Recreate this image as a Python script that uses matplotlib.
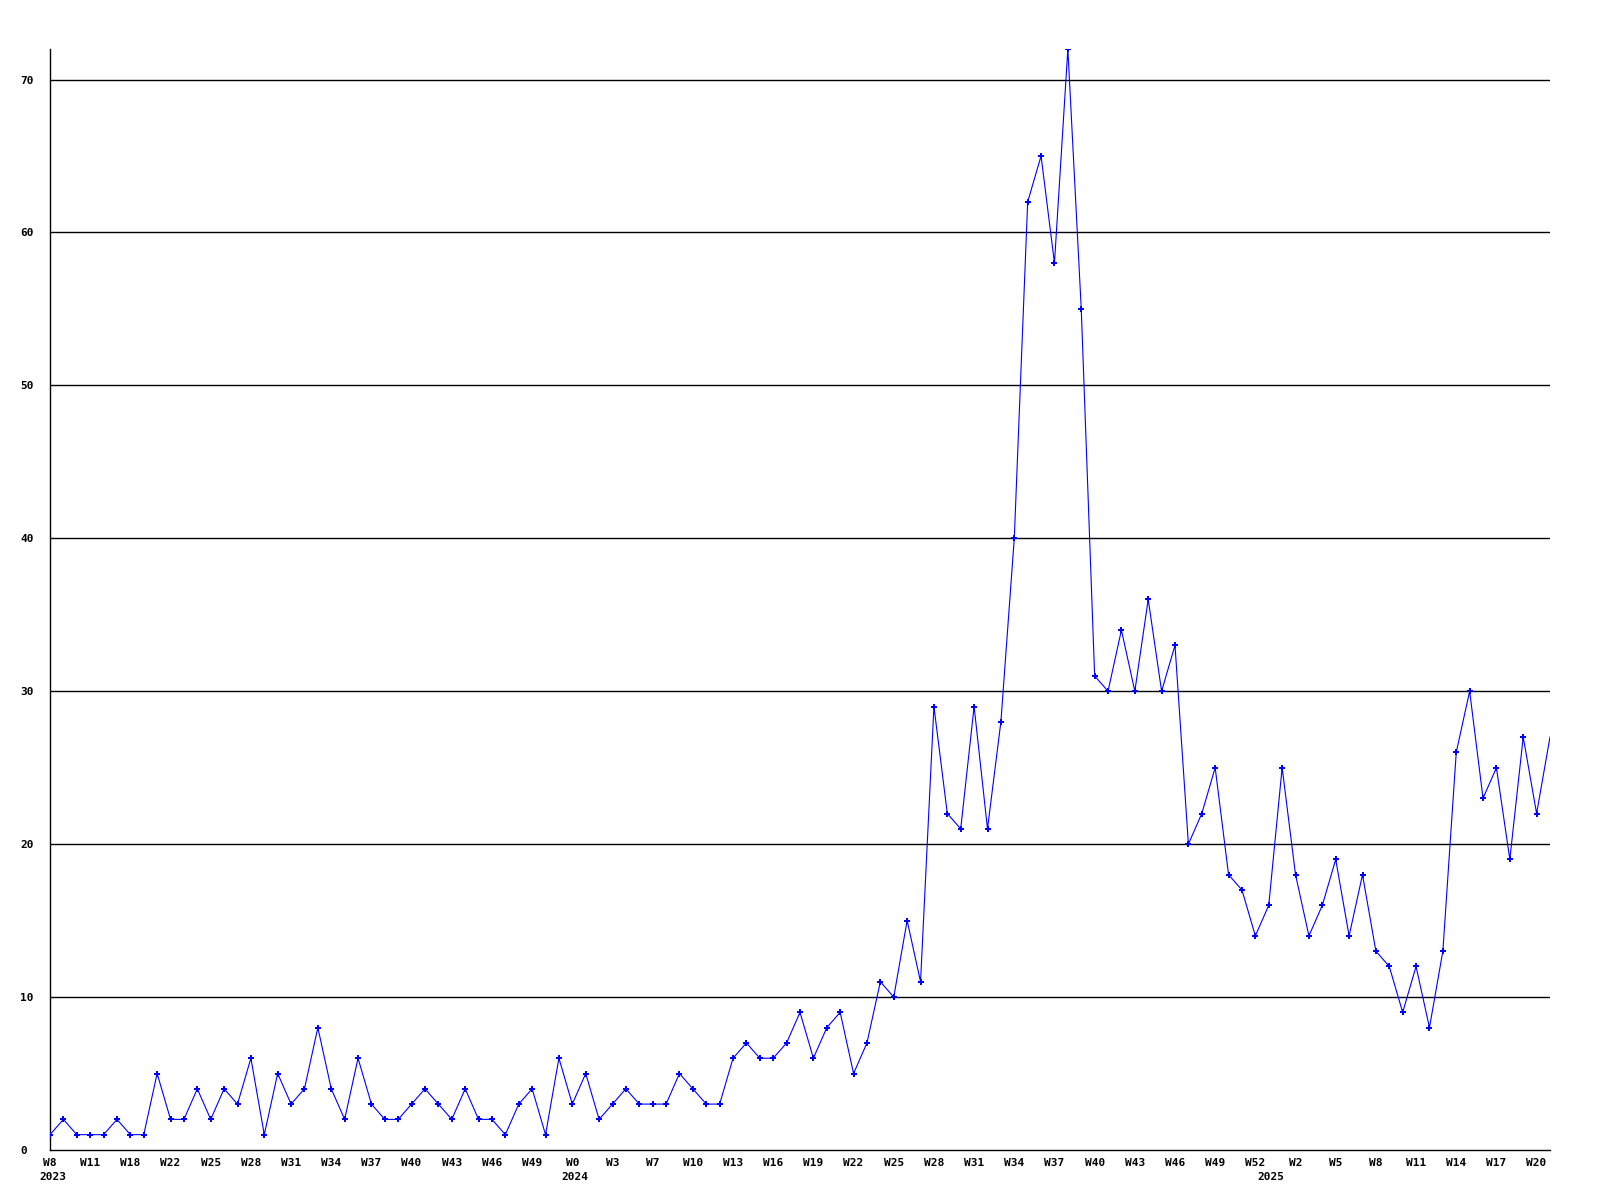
import numpy as np
import matplotlib.pyplot as plt

# weekly counts
counts = [1, 2, 1, 1, 1, 2, 1, 1, 5, 2, 2, 4, 2, 4, 3, 6, 1, 5, 3, 4,
          8, 4, 2, 6, 3, 2, 2, 3, 4, 3, 2, 4, 2, 2, 1, 3, 4, 1, 6, 3,
          5, 2, 3, 4, 3, 3, 3, 5, 4, 3, 3, 6, 7, 6, 6, 7, 9, 6, 8, 9,
          5, 7, 11, 10, 15, 11, 29, 22, 21, 29, 21, 28, 40, 62, 65, 58, 72, 55, 31, 30,
          34, 30, 36, 30, 33, 20, 22, 25, 18, 17, 14, 16, 25, 18, 14, 16, 19, 14, 18, 13,
          12, 9, 12, 8, 13, 26, 30, 23, 25, 19, 27, 22, 27]

week_labels = ['W8', 'W11', 'W18', 'W22', 'W25', 'W28', 'W31', 'W34', 'W37', 'W40',
               'W43', 'W46', 'W49', 'W0', 'W3', 'W7', 'W10', 'W13', 'W16', 'W19',
               'W22', 'W25', 'W28', 'W31', 'W34', 'W37', 'W40', 'W43', 'W46', 'W49',
               'W52', 'W2', 'W5', 'W8', 'W11', 'W14', 'W17', 'W20']
years = ['2023', '2024', '2025']
year_idx = [0, 39, 91]

x = np.arange(len(counts))
label_pos = np.arange(0, len(counts), 3)[:len(week_labels)]

fig = plt.figure(figsize=(16, 12), dpi=100)
ax = fig.add_axes([0.03125, 0.0417, 0.9375, 0.9175])

font = dict(family='DejaVu Sans Mono', weight='bold', size=8)

ax.plot(x, counts, color='#0000ff', linewidth=0.8, marker='P', markersize=4,
        markeredgewidth=0, markevery=slice(0, len(counts) - 1), zorder=3)

ax.set_xlim(0, len(counts) - 1)
ax.set_ylim(0, max(counts))
ax.set_yticks(range(0, 71, 10))
ax.set_yticklabels([str(v) for v in range(0, 71, 10)], fontdict=font, ha='left')
for v in range(10, 71, 10):
    ax.axhline(v, color='black', linewidth=1.0, zorder=1)

ax.set_xticks(label_pos)
ax.set_xticklabels(week_labels, fontdict=font)
ax.tick_params(axis='both', length=0)
ax.tick_params(axis='x', pad=6)
ax.tick_params(axis='y', pad=21.6)

for yr, i in zip(years, year_idx):
    ax.annotate(yr, xy=(i, 0), xycoords=('data', 'axes fraction'),
                xytext=(-11, -27), textcoords='offset pixels',
                ha='left', va='center', **font)

for s in ['top', 'right']:
    ax.spines[s].set_visible(False)
ax.spines['left'].set_linewidth(1.0)
ax.spines['bottom'].set_linewidth(1.0)

fig.savefig('out.png', dpi=100)
